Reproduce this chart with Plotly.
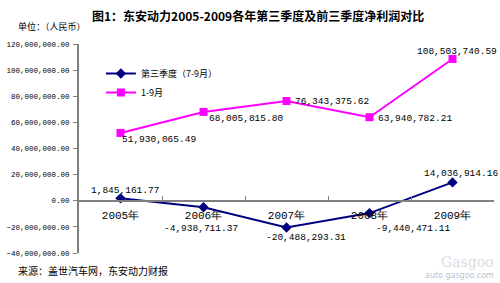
import plotly.graph_objects as go

years = ["2005年", "2006年", "2007年", "2008年", "2009年"]
q3_name = "第三季度（7-9月）"
ytd_name = "1-9月"
q3_values = [1845161.77, -4938711.37, -20488293.31, -9440471.11, 14036914.16]
ytd_values = [51930065.49, 68005815.80, 76343375.62, 63940782.21, 108503740.59]
y_ticks = [-40e6, -20e6, 0, 20e6, 40e6, 60e6, 80e6, 100e6, 120e6]

title_text = "图1：东安动力2005-2009各年第三季度及前三季度净利润对比"
unit_text = "单位：（人民币）"
source_text = "来源：盖世汽车网，东安动力财报"

NAVY = "#000080"
MAGENTA = "#FF00FF"
CJK = "Noto Sans CJK SC"
NUMF = "Liberation Mono"

# label offsets (xshift, yshift, xanchor)
q3_label_style = [(4, 8, "center"), (-3, -21, "center"), (19, -10, "center"), (4, -15, "left"), (8, 9, "center")]
ytd_label_style = [(-1, -7, "left"), (3, -7, "left"), (6, 0, "left"), (6, -1, "left"), (4, 8, "center")]

fig = go.Figure()
fig.add_trace(go.Scatter(x=years, y=q3_values, name=q3_name, mode="lines+markers",
                         line=dict(color=NAVY, width=2),
                         marker=dict(symbol="diamond", size=8, color=NAVY)))
fig.add_trace(go.Scatter(x=years, y=ytd_values, name=ytd_name, mode="lines+markers",
                         line=dict(color=MAGENTA, width=2),
                         marker=dict(symbol="square", size=8, color=MAGENTA)))

def fmt(v):
    return f"{v:,.2f}"

anns = []
for yr, v, (dx, dy, xa) in zip(years, q3_values, q3_label_style):
    anns.append(dict(x=yr, y=v, xref="x", yref="y", text=fmt(v), showarrow=False,
                     xshift=dx, yshift=dy, xanchor=xa, yanchor="middle",
                     font=dict(family=NUMF, size=9.5, color="#000000")))
for yr, v, (dx, dy, xa) in zip(years, ytd_values, ytd_label_style):
    anns.append(dict(x=yr, y=v, xref="x", yref="y", text=fmt(v), showarrow=False,
                     xshift=dx, yshift=dy, xanchor=xa, yanchor="middle",
                     font=dict(family=NUMF, size=9.5, color="#000000")))

anns.append(dict(x=257, y=15, xref="paper", yref="paper", text=f"<b>{title_text}</b>", showarrow=False,
                 xanchor="center", yanchor="middle",
                 font=dict(family=CJK, size=12, color="#000000")))
anns.append(dict(x=14, y=27, xref="paper", yref="paper", text=unit_text, showarrow=False,
                 xanchor="left", yanchor="middle",
                 font=dict(family=CJK, size=9, color="#000000")))
anns.append(dict(x=14, y=270, xref="paper", yref="paper", text=source_text, showarrow=False,
                 xanchor="left", yanchor="middle",
                 font=dict(family=CJK, size=10, color="#000000")))
anns.append(dict(x=496, y=275, xref="paper", yref="paper", text="auto.gasgoo.com", showarrow=False,
                 xanchor="right", yanchor="middle",
                 font=dict(family="DejaVu Sans", size=8, color="#b8c4cc")))
anns.append(dict(x=496, y=262, xref="paper", yref="paper", text="Gasgoo", showarrow=False,
                 xanchor="right", yanchor="middle",
                 font=dict(family="DejaVu Serif", size=14, color="#d8dde2")))

# convert pixel-placed paper annotations
L, R, T, B = 77, 6, 44, 30
W, H = 500, 283
pw, ph = W - L - R, H - T - B
for a in anns:
    if a["xref"] == "paper":
        a["x"] = (a["x"] - L) / pw
        a["y"] = (H - B - a["y"]) / ph

fig.update_layout(
    width=W, height=H,
    margin=dict(l=L, r=R, t=T, b=B),
    paper_bgcolor="white", plot_bgcolor="white",
    showlegend=True,
    legend=dict(x=(99 - L) / pw, y=(H - B - 59) / ph, xanchor="left", yanchor="top",
                font=dict(family=CJK, size=9, color="#000000"), bgcolor="rgba(0,0,0,0)",
                itemwidth=30, tracegroupgap=0),
    annotations=anns,
    xaxis=dict(type="category", range=[-0.5, 4.5], anchor="free", position=0.25,
               showline=True, linecolor="#808080", linewidth=2,
               ticks="inside", tickson="boundaries", ticklen=4, tickcolor="#808080",
               showgrid=False, zeroline=False, ticklabelstandoff=4,
               tickfont=dict(family=NUMF, size=11, color="#000000")),
    yaxis=dict(range=[-40e6, 120e6], tickvals=y_ticks, tickformat=",.2f",
               showline=True, linecolor="#808080", linewidth=2,
               ticks="outside", ticklen=4, tickcolor="#808080",
               showgrid=False, zeroline=False, ticklabelstandoff=2,
               tickfont=dict(family=NUMF, size=7.5, color="#000000")),
)

fig.write_html("out.html")
